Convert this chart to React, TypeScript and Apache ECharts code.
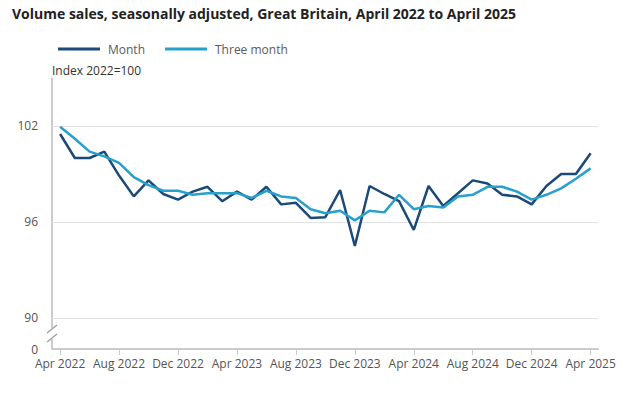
import React, { useEffect, useRef } from "react";
import * as echarts from "echarts";

const months = [
  "Apr 2022", "May 2022", "Jun 2022", "Jul 2022", "Aug 2022", "Sep 2022", "Oct 2022", "Nov 2022", "Dec 2022",
  "Jan 2023", "Feb 2023", "Mar 2023", "Apr 2023", "May 2023", "Jun 2023", "Jul 2023", "Aug 2023", "Sep 2023",
  "Oct 2023", "Nov 2023", "Dec 2023", "Jan 2024", "Feb 2024", "Mar 2024", "Apr 2024", "May 2024", "Jun 2024",
  "Jul 2024", "Aug 2024", "Sep 2024", "Oct 2024", "Nov 2024", "Dec 2024", "Jan 2025", "Feb 2025", "Mar 2025",
  "Apr 2025",
];

const monthSeries = [
  101.5, 100.0, 100.0, 100.4, 98.9, 97.6, 98.6, 97.75, 97.4, 97.9, 98.2, 97.3, 97.9, 97.4, 98.2, 97.1, 97.2,
  96.25, 96.3, 98.0, 94.5, 98.25, 97.75, 97.3, 95.5, 98.25, 97.0, 97.8, 98.6, 98.4, 97.7, 97.6, 97.1, 98.25,
  99.0, 99.0, 100.3,
];

const threeMonthSeries = [
  101.95, 101.2, 100.4, 100.1, 99.7, 98.8, 98.3, 97.95, 97.95, 97.7, 97.8, 97.8, 97.8, 97.5, 97.95, 97.6, 97.5,
  96.8, 96.55, 96.7, 96.1, 96.7, 96.6, 97.7, 96.8, 97.0, 96.9, 97.6, 97.7, 98.2, 98.2, 97.9, 97.4, 97.7, 98.1,
  98.7, 99.35,
];

const xTickLabels = [
  "Apr 2022", "Aug 2022", "Dec 2022", "Apr 2023", "Aug 2023", "Dec 2023", "Apr 2024", "Aug 2024", "Dec 2024",
  "Apr 2025",
];

const yGridValues = [90, 96, 102];
const yBreakBottom = 88.06; // shown as "0" below the axis break

const FONT = "'Open Sans', 'Noto Sans', sans-serif";

export default function App() {
  const ref = useRef<HTMLDivElement>(null);

  useEffect(() => {
    if (!ref.current) return;
    const chart = echarts.init(ref.current, null, { renderer: "svg" });

    const xTickValues = xTickLabels.map((l) => months.indexOf(l));
    const toPairs = (arr: number[]) => arr.map((v, i) => [i, v]);

    chart.setOption({
      animation: false,
      backgroundColor: "#ffffff",
      textStyle: { fontFamily: FONT },
      title: {
        text: "Volume sales, seasonally adjusted, Great Britain, April 2022 to April 2025",
        left: 12,
        top: 6,
        padding: 0,
        textStyle: { fontSize: 14, fontWeight: "bold", color: "#222222", fontFamily: FONT },
      },
      legend: {
        left: 58,
        top: 43,
        padding: 0,
        itemWidth: 42,
        itemHeight: 3,
        itemGap: 20,
        icon: "rect",
        textStyle: { fontSize: 12, color: "#5a5a5a", fontFamily: FONT, padding: [0, 0, 0, 3] },
        data: ["Month", "Three month"],
      },
      grid: { left: 52, right: 36, top: 78, bottom: 46, containLabel: false },
      xAxis: {
        type: "value",
        min: -0.55,
        max: 36.5,
        splitLine: { show: false },
        axisLine: { show: true, onZero: false, lineStyle: { color: "#cccccc", width: 2 } },
        axisTick: {
          show: true,
          customValues: xTickValues,
          length: 6,
          lineStyle: { color: "#cccccc", width: 1 },
        },
        axisLabel: {
          customValues: xTickValues,
          formatter: (v: number) => months[Math.round(v)] ?? "",
          fontSize: 12,
          color: "#555555",
          margin: 8,
          fontFamily: FONT,
        },
      },
      yAxis: {
        type: "value",
        min: yBreakBottom,
        max: 105,
        splitLine: { show: false },
        axisLine: { show: true, onZero: false, lineStyle: { color: "#bbbbbb", width: 1.5 } },
        axisTick: { show: false },
        axisLabel: {
          customValues: [yBreakBottom, ...yGridValues],
          formatter: (v: number) => (v < 89 ? "0" : String(v)),
          fontSize: 12,
          color: "#555555",
          margin: 14,
          fontFamily: FONT,
        },
      },
      graphic: [
        {
          type: "text",
          left: 52,
          top: 64,
          style: { text: "Index 2022=100", fontSize: 12, fill: "#333333", fontFamily: FONT },
        },
        {
          type: "rect",
          shape: { x: 49, y: 328, width: 7, height: 11 },
          style: { fill: "#ffffff" },
          z: 100,
        },
        {
          type: "line",
          shape: { x1: 47, y1: 333, x2: 57, y2: 325 },
          style: { stroke: "#999999", lineWidth: 1.2 },
          z: 101,
        },
        {
          type: "line",
          shape: { x1: 47, y1: 342, x2: 57, y2: 334 },
          style: { stroke: "#999999", lineWidth: 1.2 },
          z: 101,
        },
      ],
      series: [
        {
          name: "Month",
          type: "line",
          data: toPairs(monthSeries),
          showSymbol: false,
          symbol: "none",
          lineStyle: { color: "#1b4a78", width: 2.5 },
          itemStyle: { color: "#1b4a78" },
          z: 3,
          markLine: {
            silent: true,
            symbol: ["none", "none"],
            label: { show: false },
            lineStyle: { color: "#e2e2e2", width: 1, type: "solid" },
            z: 1,
            data: yGridValues.map((v) => ({ yAxis: v })),
          },
        },
        {
          name: "Three month",
          type: "line",
          data: toPairs(threeMonthSeries),
          showSymbol: false,
          symbol: "none",
          lineStyle: { color: "#27a0cc", width: 2.5 },
          itemStyle: { color: "#27a0cc" },
          z: 4,
        },
      ],
    });

    return () => chart.dispose();
  }, []);

  return (
    <div
      ref={ref}
      style={{ position: "fixed", left: 0, top: 0, width: 634, height: 395, background: "#fff" }}
    />
  );
}
